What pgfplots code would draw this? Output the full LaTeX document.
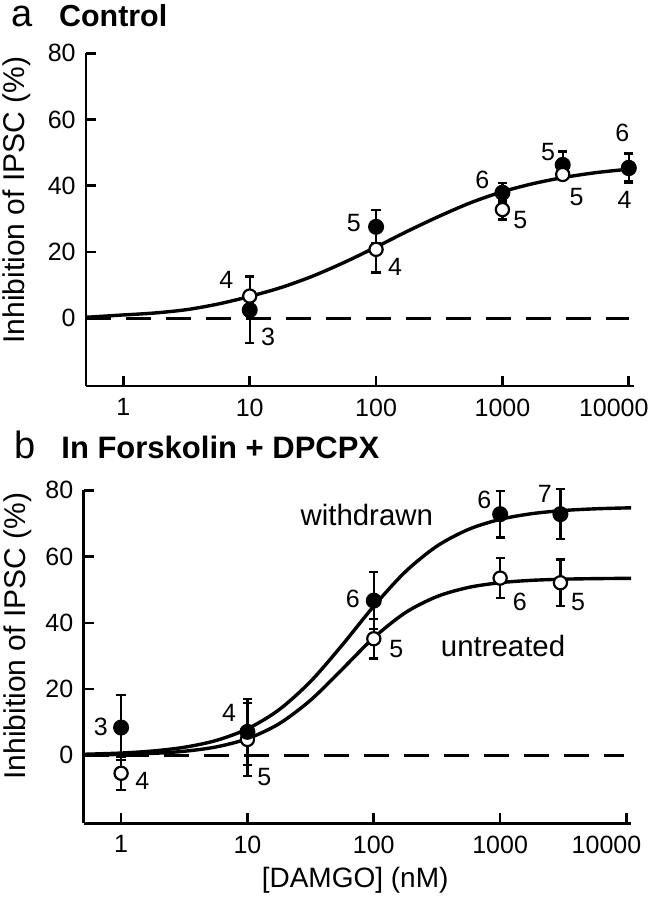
\documentclass[border=0pt]{standalone}
\usepackage{fontspec}
\setmainfont{Liberation Sans}
\usepackage{pgfplots}
\pgfplotsset{compat=1.18}
\usepackage{pgfplotstable}

\pgfplotstableread{
x y e
10 2.5 10
100 27.6 5
1000 37.9 3
3000 46.3 4
10000 45.3 4.5
}\aFilled
\pgfplotstableread{
x y e
10 6.7 6
100 20.8 7
1000 32.8 3
3000 43.4 1.5
}\aOpen
\pgfplotstableread{
x y e
10000 45.5 4
}\aOpenHidden
\pgfplotstableread{
x y
0.506 0.3
1 1.0
1.778 1.6
3.162 2.6
5.623 4.3
10 6.6
17.78 9.3
31.62 12.75
56.23 16.9
100 21.5
177.8 26.3
316.2 30.8
562.3 34.9
1000 38.2
1778 40.7
3162 42.6
5623 44.0
10000 45.0
10900 45.1
}\aCurve

\pgfplotstableread{
x y e
1 8.4 9.8
10 7.1 10
100 46.7 8.6
1000 72.8 7
3000 72.8 7.5
}\bFilled
\pgfplotstableread{
x y e
1 -5.4 5
10 4.8 11
100 35.2 6
1000 53.5 6
3000 52.1 7
}\bOpen
\pgfplotstableread{
x y
0.506 0.33
1 0.70
1.778 1.32
3.162 2.44
5.623 4.47
10 8.00
17.78 13.77
31.62 22.32
56.23 33.29
100 45.03
177.8 55.42
316.2 63.16
562.3 68.21
1000 71.24
1778 72.95
3162 73.90
5623 74.41
10000 74.69
10900 74.72
}\bCurveW
\pgfplotstableread{
x y
0.506 0.12
1 0.29
1.778 0.60
3.162 1.24
5.623 2.53
10 5.03
17.78 9.53
31.62 16.67
56.23 26.0
100 35.52
177.8 43.07
316.2 47.94
562.3 50.69
1000 52.12
1778 52.83
3162 53.18
5623 53.34
10000 53.43
10900 53.44
}\bCurveU

\tikzset{
  mynum/.style={font=\fontsize{12.5}{13}\selectfont, inner sep=0pt},
  myword/.style={font=\fontsize{14.7}{15}\selectfont, inner sep=0pt},
}
\pgfplotsset{
  mycurve/.style={line width=1.7pt, smooth, no marks, black},
  myzero/.style={line width=1.3pt, dash pattern=on 12.5pt off 7.5pt, black},
  myfill/.style={only marks, mark=*, mark size=3.6pt, black,
    mark options={fill=black, line width=0.8pt},
    error bars/.cd, y dir=both, y explicit,
    error bar style={line width=1.15pt, black},
    error mark options={rotate=90, mark size=2.3pt, line width=1.15pt, black}},
  myopen/.style={only marks, mark=*, mark size=3.3pt, black,
    mark options={fill=white, line width=1.1pt},
    error bars/.cd, y dir=both, y explicit,
    error bar style={line width=1.15pt, black},
    error mark options={rotate=90, mark size=2.3pt, line width=1.15pt, black}},
}

\begin{document}
\begin{tikzpicture}
\useasboundingbox (0,0) rectangle (326pt,450pt);

% Panel a
\begin{axis}[xmode=log, scale only axis, width=273.75pt, height=166.5pt,
    xmin=0.506, xmax=10900, ymin=-20.5, ymax=80,
    axis x line*=bottom, axis y line*=left,
    axis line style={line width=1.3pt, -},
    tick align=inside, major tick length=5pt,
    every tick/.style={line width=1.3pt, black},
    xminorticks=false, yminorticks=false,
    xtick={1,10,100,1000,10000},
    xticklabels={1,10,100,1000,{\hspace*{-7.5pt}10000\hspace*{7.5pt}}},
    ytick={0,20,40,60,80}, yticklabels={0,20,40,60,80},
    tick label style={font=\fontsize{12.5}{13}\selectfont},
    yticklabel style={inner sep=0pt, xshift=-5pt},
    xticklabel style={inner sep=0pt, yshift=-6pt},
    ylabel={Inhibition of IPSC (\%)},
    clip=false,
  at={(43pt,256.9pt)}, anchor=south west,
  ylabel style={at={(axis description cs:-0.126,0.559)}, anchor=center, font=\fontsize{15}{16}\selectfont}]
\addplot[myzero] coordinates {(0.506,0) (10000,0)};
\addplot[mycurve] table[x=x,y=y] {\aCurve};
\addplot[myopen] table[x=x,y=y,y error=e] {\aOpenHidden};
\addplot[myfill] table[x=x,y=y,y error=e] {\aFilled};
\addplot[myopen] table[x=x,y=y,y error=e] {\aOpen};
\node[mynum] at (axis cs:6.53,11.6) {4};
\node[mynum] at (axis cs:14.0,-5.6) {3};
\node[mynum] at (axis cs:66.7,28.8) {5};
\node[mynum] at (axis cs:141.6,15.5) {4};
\node[mynum] at (axis cs:694,41.8) {6};
\node[mynum] at (axis cs:1384,29.7) {5};
\node[mynum] at (axis cs:2301,50.2) {5};
\node[mynum] at (axis cs:3862,36.6) {5};
\node[mynum] at (axis cs:8896,55.9) {6};
\node[mynum] at (axis cs:9250,35.7) {4};
\end{axis}

% Panel b
\begin{axis}[xmode=log, scale only axis, width=273.75pt, height=166.5pt,
    xmin=0.506, xmax=10900, ymin=-20.5, ymax=80,
    axis x line*=bottom, axis y line*=left,
    axis line style={line width=1.3pt, -},
    tick align=inside, major tick length=5pt,
    every tick/.style={line width=1.3pt, black},
    xminorticks=false, yminorticks=false,
    xtick={1,10,100,1000,10000},
    xticklabels={1,10,100,1000,{\hspace*{-10pt}10000\hspace*{10pt}}},
    ytick={0,20,40,60,80}, yticklabels={0,20,40,60,80},
    tick label style={font=\fontsize{12.5}{13}\selectfont},
    yticklabel style={inner sep=0pt, xshift=-5pt},
    xticklabel style={inner sep=0pt, yshift=-6pt},
    ylabel={Inhibition of IPSC (\%)},
    clip=false,
  at={(41.85pt,38.35pt)}, anchor=south west,
  ylabel style={at={(axis description cs:-0.120,0.5625)}, anchor=center, font=\fontsize{15}{16}\selectfont},
  xlabel={[DAMGO] (nM)},
  xlabel style={at={(axis description cs:0.4957,-0.170)}, anchor=center, font=\fontsize{14}{15}\selectfont}]
\addplot[myzero] coordinates {(0.506,0) (9500,0)};
\addplot[mycurve] table[x=x,y=y] {\bCurveW};
\addplot[mycurve] table[x=x,y=y] {\bCurveU};
\addplot[myopen] table[x=x,y=y,y error=e] {\bOpen};
\addplot[myfill] table[x=x,y=y,y error=e] {\bFilled};
\node[mynum] at (axis cs:0.69,8.6) {3};
\node[mynum] at (axis cs:1.47,-7.6) {4};
\node[mynum] at (axis cs:7.16,12.7) {4};
\node[mynum] at (axis cs:13.6,-6.4) {5};
\node[mynum] at (axis cs:68.4,47.2) {6};
\node[mynum] at (axis cs:151,32) {5};
\node[mynum] at (axis cs:749,77.2) {6};
\node[mynum] at (axis cs:1429,46.4) {6};
\node[mynum] at (axis cs:2254,78.9) {7};
\node[mynum] at (axis cs:4140,46.4) {5};
\node[myword] at (axis cs:88,72.6) {withdrawn};
\node[myword] at (axis cs:1055,33) {untreated};
\end{axis}

% Titles
\node[anchor=base west, inner sep=0pt, font=\fontsize{19}{20}\selectfont] at (5.3pt,436.5pt) {a};
\node[anchor=base west, inner sep=0pt, font=\bfseries\fontsize{15.2}{16}\selectfont] at (29.4pt,436.5pt) {Control};
\node[anchor=base west, inner sep=0pt, font=\fontsize{19}{20}\selectfont] at (7pt,220.5pt) {b};
\node[anchor=base west, inner sep=0pt, font=\bfseries\fontsize{15.5}{16}\selectfont] at (30.5pt,220.5pt) {In Forskolin + DPCPX};
\end{tikzpicture}
\end{document}
